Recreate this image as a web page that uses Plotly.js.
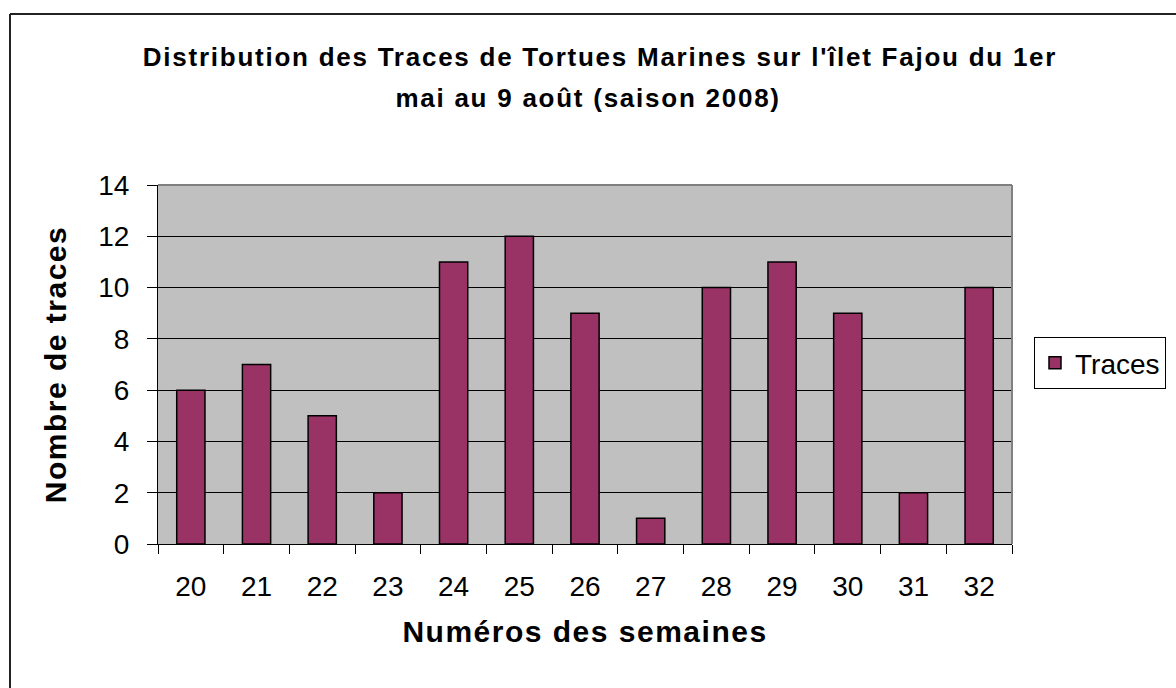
<!DOCTYPE html>
<html>
<head>
<meta charset="utf-8">
<script src="https://cdn.plot.ly/plotly-3.0.1.min.js"></script>
<style>
html,body{margin:0;padding:0;background:#fff;}
#chart{width:1176px;height:688px;}
#chart .gtitle, #chart .annotation-text { letter-spacing: 1.75px; }
#chart .xtitle, #chart .ytitle { letter-spacing: 1.5px; }
</style>
</head>
<body>
<div id="chart"></div>
<script>
const weeks = ["20","21","22","23","24","25","26","27","28","29","30","31","32"];
const traces = [6, 7, 5, 2, 11, 12, 9, 1, 10, 11, 9, 2, 10];
const seriesName = "Traces";
const titleLine1 = "Distribution des Traces de Tortues Marines sur l'îlet Fajou du 1er";
const titleLine2 = "mai au 9 août (saison 2008)";
const xTitle = "Numéros des semaines";
const yTitle = "Nombre de traces";
const yTicks = [0, 2, 4, 6, 8, 10, 12, 14];

const FONT = "'Liberation Sans', Arimo, Arial, sans-serif";

const data = [{
  type: "bar",
  x: weeks,
  y: traces,
  name: seriesName,
  marker: {color: "#993366", line: {color: "#000000", width: 1.5}},
  hoverinfo: "x+y"
}];

const layout = {
  width: 1176,
  height: 688,
  margin: {l: 158, r: 164, t: 185, b: 144, autoexpand: false},
  paper_bgcolor: "#ffffff",
  plot_bgcolor: "#C0C0C0",
  font: {family: FONT, color: "#000000"},
  bargap: 0.57,
  showlegend: true,
  title: {
    text: "<b>" + titleLine1 + "</b>",
    font: {family: FONT, size: 26, color: "#000000"},
    xref: "container", x: 600/1176, xanchor: "center",
    yref: "container", y: 1 - 57/688, yanchor: "middle"
  },
  xaxis: {
    type: "category",
    tickson: "boundaries",
    ticks: "outside",
    ticklen: 9,
    tickwidth: 1,
    tickcolor: "#000000",
    showline: true,
    linecolor: "#000000",
    linewidth: 1,
    showgrid: false,
    zeroline: false,
    tickfont: {family: FONT, size: 28, color: "#000000"},
    ticklabelstandoff: 17,
    title: {text: "<b>" + xTitle + "</b>", font: {family: FONT, size: 30, color: "#000000"}, standoff: 20}
  },
  yaxis: {
    range: [0, 14],
    tickvals: yTicks,
    ticks: "outside",
    ticklen: 10,
    tickwidth: 1,
    tickcolor: "#000000",
    showline: true,
    linecolor: "#000000",
    linewidth: 1,
    showgrid: true,
    gridcolor: "#000000",
    gridwidth: 1,
    zeroline: false,
    tickfont: {family: FONT, size: 28, color: "#000000"},
    ticklabelstandoff: 12,
    title: {text: "<b>" + yTitle + "</b>", font: {family: FONT, size: 30, color: "#000000"}, standoff: 22}
  },
  legend: {
    x: (1034 - 158) / 854,
    xanchor: "left",
    y: (544 - 363) / 359,
    yanchor: "middle",
    bgcolor: "#ffffff",
    bordercolor: "#000000",
    borderwidth: 1,
    font: {family: FONT, size: 28, color: "#000000"}
  },
  annotations: [{
    text: "<b>" + titleLine2 + "</b>",
    xref: "paper", yref: "paper",
    x: (588 - 158) / 854, y: (544 - 98) / 359,
    xanchor: "center", yanchor: "middle",
    showarrow: false,
    font: {family: FONT, size: 26, color: "#000000"}
  }],
  shapes: [
    {type: "line", xref: "paper", yref: "paper", x0: 0, x1: 1, y0: 1, y1: 1, line: {color: "#808080", width: 2}, layer: "above"},
    {type: "line", xref: "paper", yref: "paper", x0: 1, x1: 1, y0: 0, y1: 1, line: {color: "#808080", width: 2}, layer: "above"},
    {type: "line", xref: "paper", yref: "paper", x0: (10 - 158) / 854, x1: (10 - 158) / 854, y0: (544 - 700) / 359, y1: (544 - 14) / 359, line: {color: "#222222", width: 2}},
    {type: "line", xref: "paper", yref: "paper", x0: (10 - 158) / 854, x1: (1200 - 158) / 854, y0: (544 - 14) / 359, y1: (544 - 14) / 359, line: {color: "#222222", width: 2}}
  ]
};

Plotly.newPlot("chart", data, layout, {staticPlot: true, displayModeBar: false});
</script>
</body>
</html>
